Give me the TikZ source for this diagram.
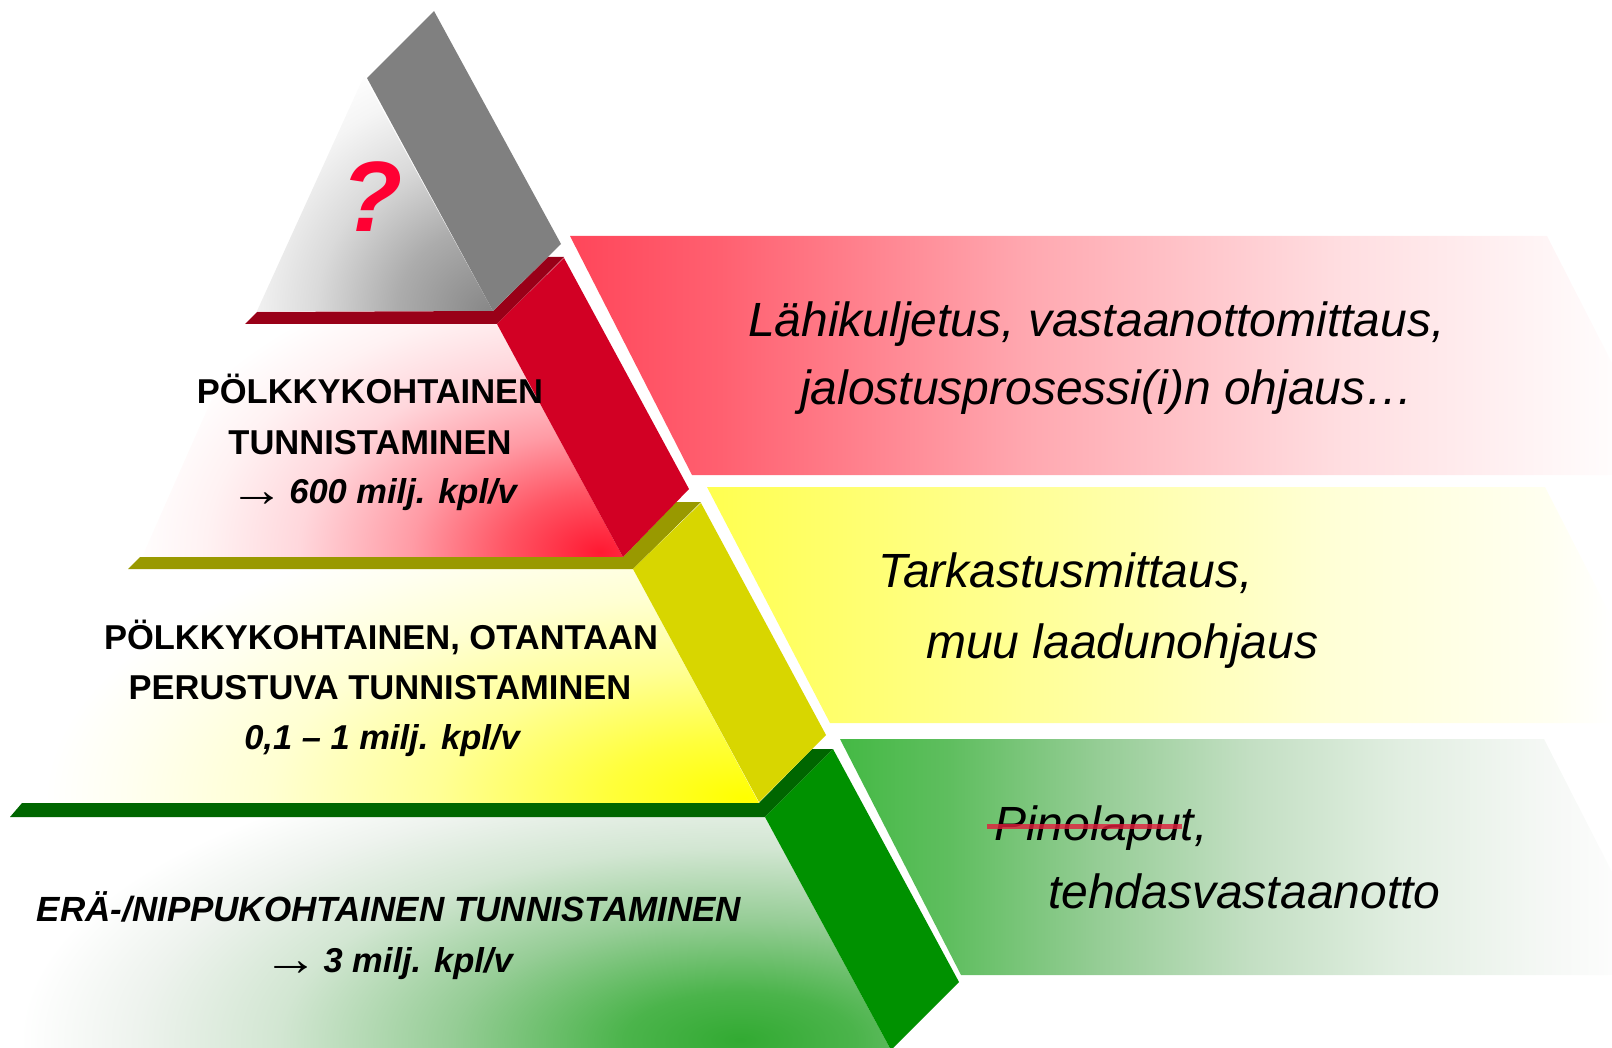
\documentclass[tikz,border=0pt]{standalone}
\usepackage{fontspec}
\setmainfont{Liberation Sans}
\newfontfamily\arrowfont{Liberation Serif}
\newcommand{\myarrow}{{\arrowfont\mdseries\upshape\raisebox{-3pt}{\scalebox{1.6}[1.4]{→}}}\hspace{5pt}}

\definecolor{grayblk}{RGB}{128,128,128}
\definecolor{redblk}{RGB}{210,0,36}
\definecolor{redledge}{RGB}{153,0,24}
\definecolor{yelblk}{RGB}{216,214,0}
\definecolor{yelledge}{RGB}{153,153,0}
\definecolor{grnblk}{RGB}{0,145,0}
\definecolor{grnledge}{RGB}{0,102,0}
\definecolor{qred}{RGB}{255,0,51}
\definecolor{strikecol}{RGB}{225,30,60}

\definecolor{gf0}{RGB}{135,135,135}
\definecolor{gf1}{RGB}{172,172,172}
\definecolor{gf2}{RGB}{218,218,218}
\definecolor{gf3}{RGB}{245,245,245}
\pgfdeclareradialshading{grayface}{\pgfpoint{0bp}{0bp}}{color(0bp)=(gf0); color(8bp)=(gf1); color(15bp)=(gf2); color(21bp)=(gf3); color(25bp)=(white); color(50bp)=(white)}

\definecolor{rf0}{RGB}{255,25,50}
\definecolor{rf1}{RGB}{255,85,100}
\definecolor{rf2}{RGB}{255,155,165}
\definecolor{rf3}{RGB}{255,215,220}
\definecolor{rf4}{RGB}{255,242,243}
\pgfdeclareradialshading{redface}{\pgfpoint{0bp}{0bp}}{color(0bp)=(rf0); color(5bp)=(rf1); color(10bp)=(rf2); color(16bp)=(rf3); color(21bp)=(rf4); color(25bp)=(white); color(50bp)=(white)}

\definecolor{yf0}{RGB}{255,255,0}
\definecolor{yf1}{RGB}{255,255,60}
\definecolor{yf2}{RGB}{255,255,150}
\definecolor{yf3}{RGB}{255,255,210}
\definecolor{yf4}{RGB}{255,255,240}
\pgfdeclareradialshading{yelface}{\pgfpoint{0bp}{0bp}}{color(0bp)=(yf0); color(5bp)=(yf1); color(11bp)=(yf2); color(17bp)=(yf3); color(22bp)=(yf4); color(25bp)=(white); color(50bp)=(white)}

\definecolor{gr0}{RGB}{50,170,50}
\definecolor{gr1}{RGB}{75,180,75}
\definecolor{gr2}{RGB}{150,205,150}
\definecolor{gr3}{RGB}{210,230,210}
\definecolor{gr4}{RGB}{238,243,238}
\pgfdeclareradialshading{grnface}{\pgfpoint{0bp}{0bp}}{color(0bp)=(gr0); color(4bp)=(gr1); color(10bp)=(gr2); color(16bp)=(gr3); color(21bp)=(gr4); color(25bp)=(white); color(50bp)=(white)}

% bands: shading rectangle spans x = 560 .. 1612  (25bp .. 75bp)
\definecolor{rb0}{RGB}{255,70,90}
\definecolor{rb1}{RGB}{255,96,112}
\definecolor{rb2}{RGB}{255,168,176}
\definecolor{rb3}{RGB}{255,221,224}
\definecolor{rb4}{RGB}{255,245,246}
\definecolor{rb5}{RGB}{255,252,252}
\pgfdeclarehorizontalshading{redband}{100bp}{color(0bp)=(rb0); color(25.5bp)=(rb0); color(32.6bp)=(rb1); color(47.2bp)=(rb2); color(61.9bp)=(rb3); color(71.9bp)=(rb4); color(75bp)=(rb5); color(100bp)=(rb5)}

\definecolor{yb0}{RGB}{255,255,80}
\definecolor{yb1}{RGB}{255,255,150}
\definecolor{yb2}{RGB}{255,255,215}
\definecolor{yb3}{RGB}{255,255,240}
\pgfdeclarehorizontalshading{yelband}{100bp}{color(0bp)=(yb0); color(32bp)=(yb0); color(47.2bp)=(yb1); color(61.9bp)=(yb2); color(71.9bp)=(yb3); color(75bp)=(white); color(100bp)=(white)}

\definecolor{gb0}{RGB}{68,185,68}
\definecolor{gb1}{RGB}{95,190,95}
\definecolor{gb2}{RGB}{150,205,150}
\definecolor{gb3}{RGB}{195,223,195}
\definecolor{gb4}{RGB}{225,238,225}
\definecolor{gb5}{RGB}{245,248,245}
\definecolor{gb6}{RGB}{252,252,252}
\pgfdeclarehorizontalshading{grnband}{100bp}{color(0bp)=(gb0); color(38.3bp)=(gb0); color(43.5bp)=(gb1); color(50.7bp)=(gb2); color(57.8bp)=(gb3); color(64.9bp)=(gb4); color(71.9bp)=(gb5); color(75bp)=(gb6); color(100bp)=(gb6)}

\tikzset{
  lefttxt/.style={font=\fontsize{34.5}{40}\selectfont\bfseries, anchor=base, inner sep=0pt},
  lefttxti/.style={font=\fontsize{34.5}{40}\selectfont\bfseries\itshape, anchor=base, inner sep=0pt},
  righttxt/.style={font=\fontsize{48}{56}\selectfont\itshape, anchor=base west, inner sep=0pt},
  strikeline/.style={draw=strikecol, line width=5pt, opacity=0.8},
}

\begin{document}
\begin{tikzpicture}[x=1pt,y=-1pt]
\useasboundingbox (0,0) rectangle (1612,1048);
\clip (0,0) rectangle (1612,1048);

% ---------- right bands ----------
\begin{scope}
  \clip (570,236) -- (1547,236) -- (1612,363) -- (1612,475) -- (692,475) -- cycle;
  \shade[shading=redband] (560,236) rectangle (1612,475);
\end{scope}
\begin{scope}
  \clip (707,487) -- (1545,487) -- (1612,618) -- (1612,723) -- (830,723) -- cycle;
  \shade[shading=yelband] (560,487) rectangle (1612,723);
\end{scope}
\begin{scope}
  \clip (840,739) -- (1544,739) -- (1612,872) -- (1612,975) -- (961,975) -- cycle;
  \shade[shading=grnband] (560,739) rectangle (1612,975);
\end{scope}

% ---------- pyramid faces ----------
\begin{scope}
  \clip (257,311) -- (364,76) -- (493,311) -- cycle;
  \shade[shading=grayface] (490,312) ellipse (290 and 270);
\end{scope}
\begin{scope}
  \clip (245,324) -- (497,324) -- (623,557) -- (142,557) -- cycle;
  \shade[shading=redface] (600,552) ellipse (470 and 300);
\end{scope}
\begin{scope}
  \clip (128,569) -- (633,569) -- (759,803) -- (22,803) -- cycle;
  \shade[shading=yelface] (745,798) ellipse (700 and 300);
\end{scope}
\begin{scope}
  \clip (10,817) -- (765,817) -- (891,1050) -- (-95,1050) -- cycle;
  \shade[shading=grnface] (740,1040) ellipse (720 and 300);
\end{scope}

% ---------- ledges ----------
\fill[redledge] (245,324) -- (257,312) -- (493,311) -- (548,257) -- (564,257) -- (497,324) -- cycle;
\fill[yelledge] (128,569) -- (140,557) -- (623,557) -- (676,502) -- (701,502) -- (633,569) -- cycle;
\fill[grnledge] (10,817) -- (22,803) -- (759,803) -- (812,749) -- (833,749) -- (765,817) -- cycle;

% ---------- side blocks ----------
\fill[grayblk] (367,78) -- (434,11) -- (561,244) -- (493,311) -- cycle;
\fill[redblk] (497,324) -- (564,258) -- (689,489) -- (623,557) -- cycle;
\fill[yelblk] (633,569) -- (701,503) -- (826,735) -- (759,802) -- cycle;
\fill[grnblk] (765,817) -- (833,749) -- (959,982) -- (891,1050) -- cycle;

% ---------- question mark ----------
\node[font=\fontsize{100}{110}\selectfont\bfseries\itshape, text=qred, inner sep=0pt, anchor=base] (qm) at (372,232) {?};

% ---------- left texts ----------
\node[lefttxt] (a1) at (370,404) {PÖLKKYKOHTAINEN};
\node[lefttxt] (a2) at (370,454) {TUNNISTAMINEN};
\node[lefttxti] (a3) at (373,503) {\myarrow 600 milj. kpl/v};

\node[lefttxt] (b1) at (381,649) {PÖLKKYKOHTAINEN, OTANTAAN};
\node[lefttxt] (b2) at (380,699) {PERUSTUVA TUNNISTAMINEN};
\node[lefttxti] (b3) at (382,749) {0,1 – 1 milj. kpl/v};

\node[lefttxti, font=\fontsize{35}{40}\selectfont\bfseries\itshape] (c1) at (389,921) {ERÄ-/NIPPUKOHTAINEN TUNNISTAMINEN};
\node[lefttxti] (c2) at (388,972) {\myarrow 3 milj. kpl/v};

% ---------- right texts ----------
\node[righttxt] (r1) at (748,337) {Lähikuljetus, vastaanottomittaus,};
\node[righttxt] (r2) at (800,405) {jalostusprosessi(i)n ohjaus…};
\node[righttxt] (y1) at (878,587) {Tarkastusmittaus,};
\node[righttxt] (y2) at (926,658) {muu laadunohjaus};
\node[righttxt] (g1) at (994,840) {Pinolaput,};
\node[righttxt] (g2) at (1048,908) {tehdasvastaanotto};

\coordinate (s1) at (987,826);
\coordinate (s2) at (1182,826);
\draw[strikeline] (s1) -- (s2);
\end{tikzpicture}
\end{document}
